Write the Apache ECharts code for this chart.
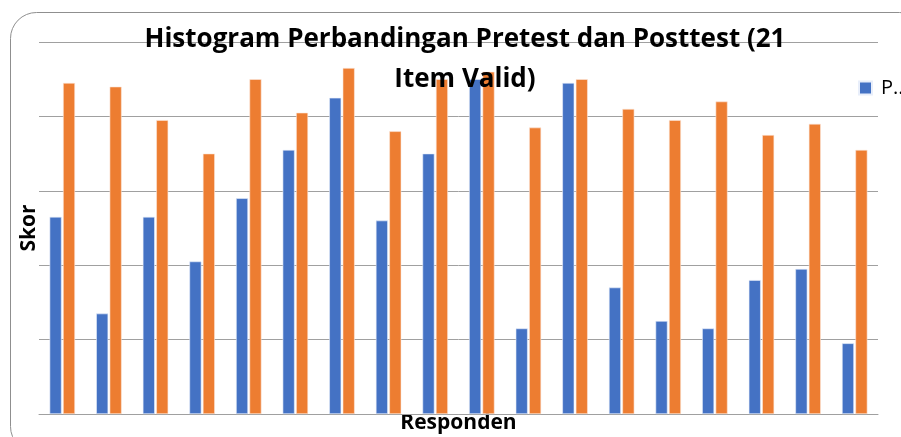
<!DOCTYPE html>
<html><head><meta charset="utf-8">
<script src="https://cdn.jsdelivr.net/npm/echarts@6/dist/echarts.min.js"></script>
<style>html,body{margin:0;padding:0;background:#fff;overflow:hidden}#c{width:901px;height:437px}</style>
</head><body><div id="c"></div>
<script>
const categories = ['1','2','3','4','5','6','7','8','9','10','11','12','13','14','15','16','17','18'];
const pretest  = [53, 27, 53, 41, 58, 71, 85, 52, 70, 90, 23, 89, 34, 25, 23, 36, 39, 19];
const posttest = [89, 88, 79, 70, 90, 81, 93, 76, 90, 92, 77, 90, 82, 79, 84, 75, 78, 71];
const seriesNames = ['Pretest', 'Posttest'];

const chart = echarts.init(document.getElementById('c'), null, {renderer: 'canvas'});
const ff = '"Open Sans", sans-serif';
chart.setOption({
  animation: false,
  backgroundColor: '#fff',
  graphic: [{
    type: 'rect', left: 10, top: 12, z: -10,
    shape: {width: 915, height: 440, r: 26},
    style: {fill: '#fff', stroke: '#8f8f8f', lineWidth: 1}
  }],
  title: {
    text: 'Histogram Perbandingan Pretest dan Posttest (21\nItem Valid)',
    left: 460, top: 15, textAlign: 'center',
    textStyle: {fontFamily: ff, fontWeight: 'bold', fontSize: 26, color: '#000', lineHeight: 40}
  },
  legend: {
    data: [seriesNames[0]],
    left: 858, top: 78, padding: 0, itemWidth: 13, itemHeight: 13, itemGap: 8,
    icon: 'rect',
    formatter: () => 'P...',
    textStyle: {fontFamily: ff, fontSize: 20, color: '#000', padding: [0,0,0,4]}
  },
  grid: {left: 39, right: 23, top: 42, bottom: 23, containLabel: false, outerBoundsMode: 'none'},
  xAxis: {
    type: 'category', data: categories,
    name: 'Responden', nameLocation: 'middle', nameGap: -1,
    nameTextStyle: {fontFamily: ff, fontWeight: 'bold', fontSize: 21, color: '#000'},
    axisLine: {lineStyle: {color: '#a0a0a0'}},
    axisTick: {show: false}, axisLabel: {show: false}
  },
  yAxis: {
    type: 'value', min: 0, max: 100, interval: 20,
    name: 'Skor', nameLocation: 'middle', nameGap: -1, nameRotate: 90,
    nameTextStyle: {fontFamily: ff, fontWeight: 'bold', fontSize: 21, color: '#000'},
    axisLabel: {show: false}, axisLine: {show: false}, axisTick: {show: false},
    splitLine: {lineStyle: {color: '#a0a0a0', width: 1}}
  },
  series: [
    {name: seriesNames[0], type: 'bar', data: pretest, barWidth: 12, barGap: '12%',
     itemStyle: {color: '#4472c4', borderColor: '#e8eefa', borderWidth: 0.6}},
    {name: seriesNames[1], type: 'bar', data: posttest, barWidth: 12,
     itemStyle: {color: '#ed7d31', borderColor: '#fbe8dc', borderWidth: 0.6}}
  ]
});
</script></body></html>
